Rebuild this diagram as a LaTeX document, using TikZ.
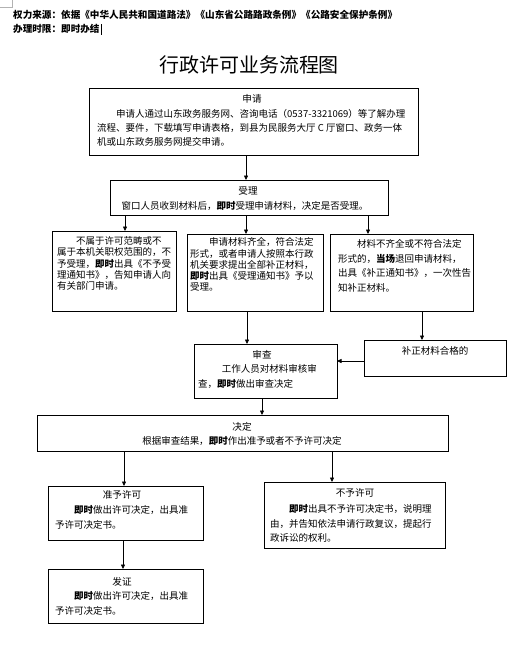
\documentclass[tikz,border=0pt]{standalone}
\usepackage{fontspec}
\setmainfont{Noto Sans CJK SC}
\usetikzlibrary{arrows.meta}
\begin{document}
\begin{tikzpicture}[x=1pt,y=-1pt,
  box/.style={draw, line width=0.9pt, anchor=north west, inner sep=0, outer sep=0},
  ttl/.style={anchor=base, inner sep=0, font=\fontsize{9.6}{12}\selectfont},
  body/.style={anchor=north west, inner sep=0, align=left},
  arr/.style={line width=0.7pt, -{Triangle[length=4.5pt,width=4pt]}}]
\fill[white] (0,0) rectangle (520,649);
\useasboundingbox (0,0) rectangle (520,649);
% corner mark
\draw[black!30, line width=0.6pt] (12,0) -- (12,7) -- (0,7);
% header
\node[anchor=base west, inner sep=0, font=\fontsize{9.6}{12}\selectfont\bfseries] (hd1) at (13,18.6) {权力来源：依据《中华人民共和国道路法》《山东省公路路政条例》《公路安全保护条例》};
\node[anchor=base west, inner sep=0, font=\fontsize{9.6}{12}\selectfont\bfseries] (hd2) at (13,32.6) {办理时限：即时办结};
\draw[line width=0.8pt] (101,24) -- (101,35);
% title
\node[anchor=base, inner sep=0, font=\fontsize{20}{24}\selectfont] (title) at (249,72.6) {行政许可业务流程图};

% 申请
\node[box, minimum width=329pt, minimum height=67pt] (sq) at (89,88) {};
\node[ttl] (sqT) at (252,102.6) {申请};
\node[body, font=\fontsize{9.5}{14}\selectfont] (sqB) at (97,108.8) {\hspace*{2em}申请人通过山东政务服务网、咨询电话（0537-3321069）等了解办理\\流程、要件，下载填写申请表格，到县为民服务大厅 C 厅窗口、政务一体\\机或山东政务服务网提交申请。};

% 受理
\node[box, minimum width=278pt, minimum height=35pt] (sl) at (110,180) {};
\node[ttl] (slT) at (248,194.6) {受理};
\node[ttl, font=\fontsize{9.5}{12}\selectfont] (slB) at (245,209.6) {窗口人员收到材料后，\textbf{即时}受理申请材料，决定是否受理。};

% three branches
\node[box, minimum width=124pt, minimum height=80pt] (bl) at (52,231) {};
\node[body, font=\fontsize{9.5}{11.3}\selectfont] (blB) at (57,236.5) {\hspace*{2em}不属于许可范畴或不\\属于本机关职权范围的，不\\予受理，\textbf{即时}出具《不予受\\理通知书》，告知申请人向\\有关部门申请。};

\node[box, minimum width=136pt, minimum height=77pt] (bm) at (187,234) {};
\node[body, font=\fontsize{9.5}{11.3}\selectfont] (bmB) at (190,237.5) {\hspace*{2em}申请材料齐全，符合法定\\形式，或者申请人按照本行政\\机关要求提出全部补正材料，\\\textbf{即时}出具《受理通知书》予以\\受理。};

\node[box, minimum width=143pt, minimum height=77pt] (br) at (330,234) {};
\node[body, font=\fontsize{9.5}{14.5}\selectfont] (brB) at (338,239.5) {\hspace*{2em}材料不齐全或不符合法定\\形式的，\textbf{当场}退回申请材料，\\出具《补正通知书》，一次性告\\知补正材料。};

% 审查
\node[box, minimum width=143pt, minimum height=54pt] (sc) at (194,344) {};
\node[ttl] (scT) at (262,358.6) {审查};
\node[body, font=\fontsize{9.5}{14.7}\selectfont] (scB) at (198,364.5) {\hspace*{2.5em}工作人员对材料审核审\\查，\textbf{即时}做出审查决定};

% 补正材料合格的
\node[box, minimum width=142pt, minimum height=36pt] (bz) at (364,340) {};
\node[ttl, font=\fontsize{9.5}{12}\selectfont] (bzT) at (435,354.6) {补正材料合格的};

% 决定
\node[box, minimum width=411pt, minimum height=36pt] (jd) at (37,415) {};
\node[ttl] (jdT) at (242,430.6) {决定};
\node[ttl, font=\fontsize{9.5}{12}\selectfont] (jdB) at (242,444.6) {根据审查结果，\textbf{即时}作出准予或者不予许可决定};

% 准予许可
\node[box, minimum width=155pt, minimum height=54pt] (zy) at (48,486) {};
\node[ttl] (zyT) at (122,498.6) {准予许可};
\node[body, font=\fontsize{9.5}{15}\selectfont] (zyB) at (55,505.5) {\hspace*{2em}\textbf{即时}做出许可决定，出具准\\予许可决定书。};

% 不予许可
\node[box, minimum width=181pt, minimum height=66pt] (by) at (264,482) {};
\node[ttl] (byT) at (355,496.6) {不予许可};
\node[body, font=\fontsize{9.5}{14.3}\selectfont] (byB) at (270,504.5) {\hspace*{2em}\textbf{即时}出具不予许可决定书，说明理\\由，并告知依法申请行政复议，提起行\\政诉讼的权利。};

% 发证
\node[box, minimum width=155pt, minimum height=54pt] (fz) at (48,569) {};
\node[ttl] (fzT) at (122,585.6) {发证};
\node[body, font=\fontsize{9.5}{15}\selectfont] (fzB) at (55,591.5) {\hspace*{2em}\textbf{即时}做出许可决定，出具准\\予许可决定书。};

% connector x positions
\coordinate (xA) at (246,0);
\coordinate (xL) at (125,0);
\coordinate (xR) at (368,0);
\coordinate (xM) at (247,0);
\coordinate (xR2) at (422,0);
\coordinate (yB) at (0,361);
\coordinate (xS) at (262,0);
\coordinate (xJ) at (124,0);
\coordinate (xB) at (332,0);
\coordinate (xF) at (123,0);

\draw[arr] (sq.south -| xA) -- (sl.north -| xA);
\draw[arr] (sl.south -| xL) -- (bl.north -| xL);
\draw[arr] (sl.south -| xA) -- (bm.north -| xA);
\draw[arr] (sl.south -| xR) -- (br.north -| xR);
\draw[arr] (bm.south -| xM) -- (sc.north -| xM);
\draw[arr] (br.south -| xR2) -- (bz.north -| xR2);
\draw[arr] (bz.west |- yB) -- (sc.east |- yB);
\draw[arr] (sc.south -| xS) -- (jd.north -| xS);
\draw[arr] (jd.south -| xJ) -- (zy.north -| xJ);
\draw[arr] (jd.south -| xB) -- (by.north -| xB);
\draw[arr] (zy.south -| xF) -- (fz.north -| xF);
\end{tikzpicture}
\end{document}
